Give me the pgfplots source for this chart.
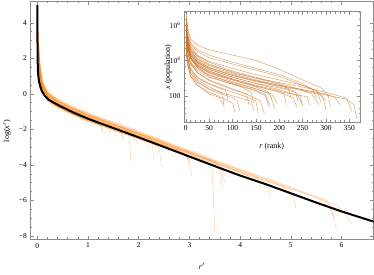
\documentclass[border=0pt]{standalone}
\usepackage{pgfplots}
\pgfplotsset{compat=1.18}
\usepackage{fontspec}
\setmainfont{Liberation Serif}
\definecolor{myor}{RGB}{255,128,10}
\definecolor{myin}{RGB}{200,110,30}
\definecolor{frm}{RGB}{140,140,140}
\pgfplotsset{
  orl/.style={color=myor, opacity=0.35, line width=0.5pt},
  inl/.style={color=myin, opacity=0.6, line width=0.5pt},
  mathframe/.style={
    scale only axis,
    tick align=inside,
    axis line style={frm, line width=0.6pt},
    tick style={frm, line width=0.5pt},
    major tick length=3.5pt,
    minor tick length=2pt,
    font=\fontsize{7.5}{9}\selectfont,
    tick label style={font=\fontsize{7.5}{9}\selectfont},
    label style={font=\fontsize{8}{9}\selectfont},
    /pgf/number format/assume math mode=true,
  }
}
\begin{document}
\begin{tikzpicture}
\path[use as bounding box] (0,0) rectangle (374pt,275pt);
\begin{axis}[mathframe,
  at={(30.3pt,35.5pt)}, anchor=south west,
  width=343.2pt, height=238pt,
  xmin=-0.138, xmax=6.63, ymin=-8.2, ymax=5.2,
  xtick={0,1,2,3,4,5,6}, minor x tick num=4,
  ytick={-8,-6,-4,-2,0,2,4}, yticklabels={−8,−6,−4,−2,0,2,4}, minor y tick num=3,
  xlabel={\textit{r}$'$}, ylabel={log(\textit{x}$'$)},
  xlabel style={at={(axis description cs:0.5,-0.114)}, anchor=center},
  ylabel style={at={(axis description cs:-0.068,0.455)}, anchor=center},
]
\addplot[orl] coordinates {(0.01,3.8)(0.02,2.8)(0.05,1.3)(0.1,0.5)(0.2,0.0)(0.4,-0.5)(0.7,-0.95)(1.0,-1.3)(1.5,-1.85)(1.8,-2.15)(1.85,-3.8)};
\addplot[orl] coordinates {(0.02,3.0)(0.05,1.6)(0.1,0.6)(0.2,0.05)(0.4,-0.4)(0.7,-0.85)(1.0,-1.2)(1.5,-1.72)(2.0,-2.25)(2.25,-2.55)(2.3,-3.7)};
\addplot[orl] coordinates {(0.02,1.5)(0.05,0.7)(0.1,0.2)(0.2,-0.3)(0.4,-0.7)(0.7,-1.12)(1.0,-1.5)(1.5,-2.02)(2.0,-2.55)(2.4,-2.98)(2.45,-4.1)};
\addplot[orl] coordinates {(0.02,2.0)(0.05,1.0)(0.1,0.35)(0.2,-0.15)(0.4,-0.55)(0.7,-1.0)(1.0,-1.35)(1.5,-1.88)(2.0,-2.4)(2.5,-2.92)(2.9,-3.35)(3.0,-3.7)(3.05,-4.7)};
\addplot[orl] coordinates {(0.02,3.2)(0.05,1.5)(0.1,0.6)(0.2,0.0)(0.4,-0.42)(0.7,-0.85)(1.0,-1.2)(1.5,-1.72)(2.0,-2.25)(2.5,-2.78)(3.0,-3.32)(3.5,-3.85)(3.6,-4.3)(3.65,-5.3)};
\addplot[orl] coordinates {(0.03,2.2)(0.06,1.1)(0.1,0.4)(0.2,-0.1)(0.4,-0.52)(0.7,-0.95)(1.0,-1.3)(1.5,-1.82)(2.0,-2.35)(2.5,-2.88)(3.0,-3.42)(3.35,-3.82)(3.45,-4.3)(3.5,-7.8)};
\addplot[orl] coordinates {(0.01,4.0)(0.02,3.0)(0.05,1.7)(0.1,0.7)(0.2,0.1)(0.4,-0.35)(0.7,-0.78)(1.0,-1.12)(1.5,-1.65)(2.0,-2.17)(2.5,-2.7)(3.0,-3.25)(3.5,-3.78)(4.0,-4.3)(4.5,-4.78)(5.0,-5.3)(5.5,-5.82)(5.9,-6.25)(6.05,-6.7)(6.2,-7.3)};
\addplot[orl] coordinates {(0.02,2.6)(0.05,1.4)(0.1,0.5)(0.2,-0.02)(0.4,-0.4)(0.7,-0.82)(1.0,-1.16)(1.5,-1.7)(2.0,-2.2)(2.5,-2.74)(3.0,-3.28)(3.5,-3.82)(4.0,-4.35)(4.5,-4.83)(5.0,-5.35)(5.5,-5.85)(5.75,-6.2)(5.85,-6.9)(5.9,-7.7)};
\addplot[orl] coordinates {(0.02,2.2)(0.05,1.2)(0.1,0.45)(0.2,-0.07)(0.4,-0.45)(0.7,-0.86)(1.0,-1.2)(1.5,-1.74)(2.0,-2.26)(2.5,-2.8)(3.0,-3.34)(3.5,-3.87)(4.0,-4.4)(4.5,-4.88)(4.95,-5.35)(5.05,-5.8)(5.1,-6.4)};
\addplot[orl] coordinates {(0.03,1.8)(0.06,0.9)(0.1,0.3)(0.2,-0.12)(0.4,-0.5)(0.7,-0.9)(1.0,-1.25)(1.5,-1.78)(2.0,-2.3)(2.5,-2.84)(3.0,-3.38)(3.5,-3.92)(4.0,-4.45)(4.45,-4.9)(4.55,-5.3)(4.6,-5.9)};
\addplot[orl] coordinates {(0.02,2.8)(0.05,1.3)(0.1,0.45)(0.2,-0.2)(0.4,-0.62)(0.7,-1.05)(1.0,-1.4)(1.4,-1.83)(1.65,-2.05)(1.7,-2.5)};
\addplot[orl] coordinates {(0.01,1.9)(0.03,1.0)(0.06,0.5)(0.1,0.05)(0.2,-0.42)(0.4,-0.8)(0.7,-1.2)(1.0,-1.55)(1.25,-1.8)(1.3,-2.2)};
\addplot[orl] coordinates {(0.03,1.5)(0.06,0.7)(0.1,0.25)(0.2,-0.3)(0.4,-0.68)(0.7,-1.1)(1.0,-1.45)(1.5,-1.98)(2.0,-2.5)(2.15,-2.7)(2.2,-3.1)};
\addplot[orl] coordinates {(0.02,3.4)(0.05,1.6)(0.1,0.6)(0.2,0.0)(0.4,-0.45)(0.7,-0.88)(1.0,-1.25)(1.5,-1.78)(2.0,-2.3)(2.5,-2.84)(2.85,-3.22)(2.95,-3.6)(3.0,-4.0)};
\addplot[orl] coordinates {(0.02,1.6)(0.05,0.8)(0.1,0.2)(0.2,-0.35)(0.4,-0.72)(0.7,-1.14)(1.0,-1.5)(1.5,-2.03)(1.9,-2.45)(2.0,-2.85)};
\addplot[orl] coordinates {(0.03,2.5)(0.06,1.3)(0.1,0.65)(0.2,0.05)(0.4,-0.37)(0.7,-0.8)(1.0,-1.15)(1.5,-1.68)(2.0,-2.2)(2.5,-2.74)(3.0,-3.28)(3.5,-3.82)(3.62,-4.2)(3.7,-5.0)};
\addplot[orl] coordinates {(0.015,2.0)(0.04,1.0)(0.08,0.4)(0.15,-0.05)(0.3,-0.45)(0.6,-0.85)(1.0,-1.35)(1.5,-1.88)(1.55,-2.4)};
\addplot[orl] coordinates {(0.02,3.6)(0.04,2.3)(0.07,1.3)(0.12,0.6)(0.2,0.15)(0.4,-0.32)(0.7,-0.74)(1.0,-1.1)(1.5,-1.63)(2.0,-2.15)(2.5,-2.69)(3.0,-3.23)(3.5,-3.77)(4.0,-4.3)(4.3,-4.6)(4.38,-4.95)(4.4,-5.4)};
\addplot[orl] coordinates {(0.02,1.4)(0.05,0.6)(0.1,0.1)(0.2,-0.37)(0.4,-0.72)(0.7,-1.14)(1.0,-1.5)(1.25,-1.75)(1.3,-2.1)};
\addplot[orl] coordinates {(0.03,2.0)(0.07,0.85)(0.12,0.3)(0.2,-0.15)(0.4,-0.52)(0.7,-0.94)(1.0,-1.3)(1.5,-1.83)(2.0,-2.35)(2.5,-2.89)(2.58,-3.0)(2.6,-3.4)};
\addplot[orl] coordinates {(0.02,2.9)(0.05,1.5)(0.1,0.55)(0.2,0.0)(0.4,-0.42)(0.7,-0.84)(1.0,-1.2)(1.5,-1.73)(2.0,-2.25)(2.5,-2.79)(3.0,-3.33)(3.5,-3.87)(4.0,-4.4)(4.15,-4.6)(4.2,-4.9)};
\addplot[orl] coordinates {(0.01,1.5)(0.03,0.9)(0.07,0.35)(0.15,-0.2)(0.3,-0.6)(0.6,-1.02)(1.0,-1.52)(1.5,-2.05)(1.65,-2.2)(1.7,-2.6)};
\addplot[orl] coordinates {(0.02,2.3)(0.05,1.2)(0.1,0.4)(0.2,-0.2)(0.4,-0.57)(0.7,-1.0)(1.0,-1.35)(1.5,-1.88)(2.0,-2.4)(2.5,-2.94)(2.9,-3.38)(3.0,-3.8)};
\addplot[orl] coordinates {(0.04,1.2)(0.08,0.55)(0.15,0.05)(0.3,-0.4)(0.6,-0.8)(1.0,-1.3)(1.5,-1.83)(2.0,-2.35)(2.5,-2.89)(3.0,-3.43)(3.5,-3.97)(3.65,-4.15)(3.7,-4.6)};
\addplot[orl] coordinates {(0.01,2.7)(0.03,1.5)(0.06,0.8)(0.12,0.2)(0.25,-0.35)(0.5,-0.8)(0.8,-1.2)(1.1,-1.55)(1.4,-1.85)(1.45,-2.2)};
\addplot[orl] coordinates {(0.03,1.9)(0.06,1.0)(0.12,0.3)(0.3,-0.26)(0.6,-0.7)(1.0,-1.2)(1.5,-1.73)(2.0,-2.25)(2.5,-2.79)(3.0,-3.33)(3.5,-3.87)(4.0,-4.4)(4.5,-4.88)(4.85,-5.2)(4.95,-5.6)};
\addplot[orl] coordinates {(0.02,2.1)(0.05,1.1)(0.1,0.5)(0.2,0.05)(0.4,-0.3)(0.7,-0.7)(1.0,-1.05)(1.5,-1.58)(2.0,-2.1)(2.5,-2.64)(3.0,-3.18)(3.5,-3.72)(4.0,-4.25)(4.5,-4.73)(5.0,-5.25)(5.5,-5.77)(5.7,-6.0)(5.78,-6.4)(5.85,-7.0)};
\addplot[orl] coordinates {(0.02,1.7)(0.05,0.9)(0.1,0.3)(0.2,-0.28)(0.4,-0.67)(0.7,-1.09)(1.0,-1.45)(1.5,-1.98)(2.0,-2.5)(2.35,-2.88)(2.4,-3.3)};
\addplot[orl] coordinates {(0.02,2.4)(0.05,1.2)(0.1,0.4)(0.2,-0.1)(0.4,-0.5)(0.7,-0.95)(0.95,-1.25)(1.0,-1.7)};
\addplot[orl] coordinates {(0.03,1.3)(0.06,0.6)(0.1,0.15)(0.2,-0.35)(0.4,-0.7)(0.7,-1.15)(0.9,-1.4)(0.95,-1.8)};
\addplot[black, line width=2pt] coordinates {(0,5.0)(0.002,3.5)(0.005,2.5)(0.008,1.8)(0.012,1.3)(0.02,1.0)(0.035,0.7)(0.055,0.45)(0.09,0.15)(0.15,-0.12)(0.22,-0.32)(0.3,-0.46)(0.43,-0.66)(0.6,-0.9)(0.75,-1.1)(1.0,-1.4)(1.3,-1.72)(1.6,-2.03)(2.0,-2.45)(2.5,-2.99)(3.0,-3.53)(3.5,-4.07)(4.0,-4.6)(4.5,-5.08)(5.0,-5.6)(5.5,-6.12)(6.0,-6.62)(6.64,-7.2)};
\end{axis}
\begin{axis}[mathframe,
  at={(184pt,152.7pt)}, anchor=south west,
  width=176.5pt, height=110.6pt,
  axis background/.style={fill=white},
  xmin=-4, xmax=374, ymin=0.51, ymax=6.75,
  xtick={0,50,...,350}, minor x tick num=4,
  ytick={2,4,6}, yticklabels={100,10\textsuperscript{4},10\textsuperscript{6}},
  minor ytick={1,1.301,1.699,2.301,2.699,3,3.301,3.699,4.301,4.699,5,5.301,5.699,6.301,6.699},
  xlabel={\textit{r} (rank)}, ylabel={\textit{x} (population)},
  xlabel style={at={(axis description cs:0.497,-0.223)}, anchor=center},
  ylabel style={at={(axis description cs:-0.09,0.5)}, anchor=center},
]
\addplot[inl] coordinates {(1,6.7)(3,6.0)(10,5.2)(25,4.85)(50,4.6)(100,4.3)(150,4.0)(200,3.5)(250,2.9)(290,2.45)(305,2.0)(310,1.4)};
\addplot[inl] coordinates {(1,6.2)(3,5.5)(10,4.9)(25,4.5)(50,4.15)(100,3.8)(150,3.45)(200,3.1)(250,2.6)(285,2.2)(295,1.8)(300,1.2)};
\addplot[inl] coordinates {(1,6.0)(3,5.3)(10,4.6)(25,4.2)(50,3.8)(100,3.3)(150,3.0)(200,2.75)(250,2.5)(300,2.2)(340,1.9)(360,1.5)(366,0.72)};
\addplot[inl] coordinates {(1,5.8)(3,5.1)(10,4.5)(25,4.0)(50,3.6)(100,3.15)(150,2.85)(200,2.6)(250,2.35)(300,2.05)(345,1.8)(355,1.15)};
\addplot[inl] coordinates {(1,6.4)(3,5.6)(10,4.8)(25,4.3)(50,3.9)(100,3.4)(150,3.05)(200,2.7)(240,2.4)(270,2.1)(285,1.5)};
\addplot[inl] coordinates {(1,5.5)(3,4.9)(10,4.3)(25,3.8)(50,3.4)(100,2.95)(150,2.55)(200,2.2)(230,1.9)(238,1.35)};
\addplot[inl] coordinates {(1,5.9)(3,5.0)(10,4.2)(25,3.7)(50,3.3)(100,2.8)(150,2.4)(180,2.1)(190,1.3)};
\addplot[inl] coordinates {(1,5.6)(3,4.8)(10,4.1)(25,3.6)(50,3.2)(80,2.9)(100,2.7)(140,2.4)(170,2.0)(178,1.4)};
\addplot[inl] coordinates {(1,6.1)(3,5.2)(10,4.4)(25,3.9)(50,3.5)(100,3.05)(150,2.7)(200,2.35)(240,2.0)(250,1.5)};
\addplot[inl] coordinates {(1,5.0)(3,4.2)(10,3.4)(25,2.9)(50,2.5)(75,2.2)(80,1.8)(82,1.3)};
\addplot[inl] coordinates {(1,5.7)(3,4.9)(10,4.1)(25,3.6)(50,3.1)(90,2.75)(120,2.5)(140,2.2)(145,1.6)};
\addplot[inl] coordinates {(1,5.3)(3,4.5)(10,3.8)(25,3.3)(50,2.9)(100,2.4)(130,2.1)(160,1.7)(168,1.0)};
\addplot[inl] coordinates {(1,6.3)(3,5.4)(10,4.7)(25,4.25)(50,3.95)(100,3.55)(150,3.2)(200,2.9)(250,2.6)(280,2.3)(290,1.6)};
\addplot[inl] coordinates {(1,4.9)(3,4.1)(10,3.3)(25,2.8)(50,2.35)(100,1.9)(110,1.7)(115,1.2)};
\addplot[inl] coordinates {(1,5.9)(3,5.1)(10,4.4)(25,3.95)(50,3.6)(100,3.2)(150,2.85)(200,2.5)(230,2.3)(245,2.0)(250,1.4)};
\addplot[inl] coordinates {(1,4.6)(3,3.9)(10,3.1)(25,2.6)(50,2.1)(80,1.85)(100,1.6)(105,1.1)};
\addplot[inl] coordinates {(1,5.6)(3,4.9)(10,4.2)(25,3.75)(50,3.4)(100,2.95)(150,2.6)(200,2.3)(210,2.1)(215,1.5)};
\addplot[inl] coordinates {(1,6.5)(3,5.8)(10,5.0)(25,4.6)(50,4.3)(100,3.9)(150,3.55)(200,3.2)(250,2.7)(270,2.4)(280,1.9)};
\addplot[inl] coordinates {(1,5.4)(3,4.6)(10,3.9)(25,3.5)(50,3.15)(100,2.75)(150,2.4)(185,2.1)(195,1.6)};
\addplot[inl] coordinates {(1,5.0)(3,4.25)(10,3.55)(25,3.05)(50,2.7)(90,2.3)(130,1.95)(150,1.7)(155,1.0)};
\addplot[inl] coordinates {(1,5.7)(3,5.0)(10,4.3)(25,3.85)(50,3.5)(100,3.05)(150,2.7)(200,2.45)(235,2.2)(240,1.7)};
\addplot[inl] coordinates {(1,4.5)(3,3.8)(10,3.1)(25,2.6)(50,2.2)(70,2.0)(80,1.5)};
\addplot[inl] coordinates {(1,5.5)(3,4.6)(10,3.8)(25,3.3)(50,2.85)(100,2.35)(130,2.1)(135,1.5)};
\addplot[inl] coordinates {(1,5.8)(3,5.0)(10,4.3)(25,3.9)(50,3.55)(100,3.15)(150,2.8)(200,2.55)(250,2.3)(290,2.05)(300,1.7)};
\addplot[inl] coordinates {(1,5.3)(3,4.55)(10,3.85)(25,3.4)(50,3.05)(100,2.65)(150,2.3)(170,2.1)(180,1.5)};
\addplot[inl] coordinates {(1,6.0)(3,5.2)(10,4.5)(25,4.1)(50,3.75)(100,3.35)(150,3.0)(200,2.65)(220,2.4)(225,1.9)};
\addplot[inl] coordinates {(1,4.7)(3,3.9)(10,3.2)(25,2.75)(50,2.4)(100,2.0)(140,1.7)(145,1.2)};
\addplot[inl] coordinates {(1,5.5)(3,4.8)(10,4.1)(25,3.65)(50,3.3)(100,2.9)(150,2.55)(200,2.25)(260,1.95)(265,1.5)};
\addplot[inl] coordinates {(1,5.0)(3,4.2)(10,3.5)(25,3.0)(50,2.65)(85,2.3)(90,1.8)};
\addplot[inl] coordinates {(1,5.6)(3,4.85)(10,4.15)(25,3.7)(50,3.35)(100,2.9)(150,2.5)(175,2.25)(185,1.8)};
\addplot[inl] coordinates {(1,6.2)(3,5.4)(10,4.6)(25,4.05)(50,3.7)(100,3.25)(150,2.9)(200,2.6)(250,2.35)(300,2.1)(320,1.9)(330,1.5)};
\end{axis}
\end{tikzpicture}
\end{document}
